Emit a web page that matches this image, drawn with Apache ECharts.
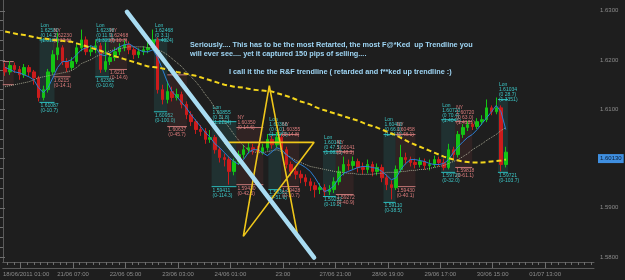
<!DOCTYPE html>
<html><head><meta charset="utf-8">
<script src="https://cdn.jsdelivr.net/npm/echarts@6.0.0/dist/echarts.min.js"></script>
<style>html,body{margin:0;padding:0;background:#1e1e1e;}#c{width:625px;height:280px;}</style>
</head><body><div id="c"></div>
<script>
// ---- data (2-hour bars, prices) ----
const opens=[1.6185,1.6176,1.6189,1.6181,1.6170,1.6185,1.6176,1.6164,1.6124,1.6140,
1.6176,1.6211,1.6225,1.6197,1.6185,1.6197,1.6225,1.6241,1.6217,1.6221,
1.6229,1.6181,1.6197,1.6205,1.6217,1.6225,1.6231,1.6221,1.6211,1.6217,
1.6221,1.6225,1.6241,1.6140,1.6120,1.6136,1.6124,1.6130,1.6110,1.6089,
1.6075,1.6059,1.6055,1.6039,1.6043,1.6018,1.6002,1.5998,1.5974,1.5994,
1.6008,1.6018,1.6022,1.6018,1.6014,1.6022,1.6039,1.6028,1.6043,1.6018,
1.5988,1.5974,1.5968,1.5961,1.5953,1.5945,1.5937,1.5941,1.5933,1.5937,
1.5953,1.5974,1.5988,1.5986,1.5994,1.5982,1.5978,1.5988,1.5974,1.5982,
1.5961,1.5947,1.5941,1.5978,1.6002,1.5998,1.5992,1.5988,1.5994,1.5986,
1.5988,1.5998,1.5992,1.5982,1.6018,1.6008,1.6049,1.6063,1.6069,1.6065,
1.6075,1.6079,1.6103,1.6095,1.6103,1.5988];
const closes=[1.6176,1.6189,1.6181,1.6170,1.6185,1.6176,1.6164,1.6124,1.6140,1.6176,
1.6211,1.6225,1.6197,1.6185,1.6197,1.6225,1.6241,1.6217,1.6221,1.6229,
1.6181,1.6197,1.6205,1.6217,1.6225,1.6231,1.6221,1.6211,1.6217,1.6221,
1.6225,1.6241,1.6140,1.6120,1.6136,1.6124,1.6130,1.6110,1.6089,1.6075,
1.6059,1.6055,1.6039,1.6043,1.6018,1.6002,1.5998,1.5974,1.5994,1.6008,
1.6018,1.6022,1.6018,1.6014,1.6022,1.6039,1.6028,1.6043,1.6018,1.5988,
1.5974,1.5968,1.5961,1.5953,1.5945,1.5937,1.5941,1.5933,1.5937,1.5953,
1.5974,1.5988,1.5986,1.5994,1.5982,1.5978,1.5988,1.5974,1.5982,1.5961,
1.5947,1.5941,1.5978,1.6002,1.5998,1.5992,1.5988,1.5994,1.5986,1.5988,
1.5998,1.5992,1.5982,1.6018,1.6008,1.6049,1.6063,1.6069,1.6065,1.6075,
1.6079,1.6103,1.6095,1.6103,1.5988,1.6013];
const lows=[1.6168,1.6170,1.6174,1.6160,1.6164,1.6168,1.6150,1.6116,1.6118,1.6134,
1.6170,1.6200,1.6190,1.6176,1.6180,1.6192,1.6218,1.6210,1.6208,1.6214,
1.6174,1.6176,1.6190,1.6198,1.6210,1.6218,1.6212,1.6202,1.6204,1.6210,
1.6214,1.6220,1.6132,1.6110,1.6112,1.6116,1.6118,1.6102,1.6080,1.6066,
1.6050,1.6046,1.6030,1.6032,1.6010,1.5992,1.5984,1.5947,1.5966,1.5988,
1.6000,1.6010,1.6008,1.6004,1.6008,1.6016,1.6020,1.6022,1.6010,1.5980,
1.5964,1.5958,1.5950,1.5944,1.5934,1.5921,1.5928,1.5924,1.5926,1.5930,
1.5946,1.5966,1.5976,1.5978,1.5972,1.5968,1.5970,1.5964,1.5966,1.5952,
1.5936,1.5917,1.5936,1.5972,1.5988,1.5984,1.5980,1.5982,1.5978,1.5976,
1.5982,1.5984,1.5976,1.5978,1.5998,1.6002,1.6042,1.6056,1.6058,1.6060,
1.6068,1.6074,1.6088,1.6090,1.5974,1.5982];
const highs=[1.6194,1.6198,1.6195,1.6188,1.6192,1.6190,1.6180,1.6168,1.6148,1.6182,
1.6220,1.6256,1.6230,1.6204,1.6206,1.6234,1.6262,1.6248,1.6230,1.6240,
1.6235,1.6236,1.6214,1.6226,1.6234,1.6240,1.6238,1.6226,1.6224,1.6228,
1.6236,1.6262,1.6246,1.6150,1.6158,1.6146,1.6142,1.6136,1.6116,1.6096,
1.6080,1.6068,1.6062,1.6058,1.6048,1.6024,1.6010,1.6004,1.6000,1.6016,
1.6028,1.6032,1.6030,1.6026,1.6030,1.6050,1.6046,1.6054,1.6048,1.6024,
1.5994,1.5982,1.5976,1.5968,1.5960,1.5952,1.5950,1.5948,1.5946,1.5962,
1.5984,1.6004,1.5998,1.6004,1.6000,1.5992,1.5998,1.5994,1.5990,1.5988,
1.5968,1.5956,1.5986,1.6028,1.6012,1.6004,1.6000,1.6002,1.6000,1.5998,
1.6006,1.6004,1.6000,1.6030,1.6024,1.6056,1.6070,1.6076,1.6074,1.6082,
1.6088,1.6120,1.6108,1.6124,1.6108,1.6024];
const maFast=[1.6185,1.6181,1.6176,1.6174,1.6170,1.6166,1.6160,1.6144,1.6134,1.6144,
1.6164,1.6185,1.6197,1.6197,1.6201,1.6211,1.6221,1.6225,1.6229,1.6225,
1.6211,1.6209,1.6215,1.6221,1.6227,1.6231,1.6233,1.6227,1.6221,1.6217,
1.6217,1.6221,1.6205,1.6181,1.6156,1.6136,1.6126,1.6114,1.6103,1.6089,
1.6077,1.6065,1.6053,1.6043,1.6030,1.6022,1.6012,1.6002,1.5994,1.5988,
1.5998,1.6012,1.6018,1.6018,1.6012,1.6006,1.6014,1.6022,1.6018,1.6008,
1.6000,1.5992,1.5988,1.5982,1.5974,1.5961,1.5945,1.5933,1.5937,1.5945,
1.5961,1.5970,1.5974,1.5978,1.5982,1.5984,1.5984,1.5982,1.5980,1.5974,
1.5966,1.5957,1.5961,1.5978,1.5990,1.5998,1.5998,1.5996,1.5994,1.5990,
1.5988,1.5988,1.5990,1.5998,1.6012,1.6024,1.6034,1.6043,1.6049,1.6059,
1.6071,1.6083,1.6095,1.6108,1.6095,1.6059];
const maSlow=[1.6146,1.6148,1.6150,1.6152,1.6154,1.6156,1.6160,1.6164,1.6166,1.6168,
1.6170,1.6172,1.6174,1.6176,1.6179,1.6185,1.6193,1.6197,1.6201,1.6207,
1.6211,1.6215,1.6219,1.6221,1.6223,1.6225,1.6227,1.6227,1.6227,1.6227,
1.6225,1.6225,1.6221,1.6217,1.6211,1.6203,1.6195,1.6187,1.6176,1.6166,
1.6156,1.6144,1.6130,1.6118,1.6103,1.6089,1.6075,1.6063,1.6049,1.6037,
1.6026,1.6018,1.6014,1.6012,1.6012,1.6014,1.6016,1.6018,1.6014,1.6008,
1.6002,1.5996,1.5992,1.5988,1.5984,1.5982,1.5980,1.5978,1.5976,1.5974,
1.5972,1.5972,1.5970,1.5970,1.5968,1.5968,1.5968,1.5968,1.5970,1.5970,
1.5972,1.5972,1.5972,1.5974,1.5974,1.5976,1.5976,1.5978,1.5978,1.5980,
1.5982,1.5984,1.5986,1.5990,1.5994,1.5998,1.6004,1.6010,1.6018,1.6024,
1.6030,1.6037,1.6043,1.6049,1.6057,1.6063];
const maLong=[1.6258,1.6256,1.6254,1.6252,1.6251,1.6249,1.6247,1.6245,1.6244,1.6243,
1.6241,1.6240,1.6239,1.6238,1.6237,1.6234,1.6231,1.6228,1.6225,1.6222,
1.6219,1.6215,1.6211,1.6208,1.6205,1.6202,1.6199,1.6196,1.6193,1.6190,
1.6187,1.6186,1.6185,1.6183,1.6181,1.6179,1.6176,1.6174,1.6172,1.6170,
1.6168,1.6165,1.6162,1.6159,1.6156,1.6153,1.6150,1.6148,1.6146,1.6145,
1.6144,1.6142,1.6140,1.6139,1.6138,1.6137,1.6136,1.6133,1.6130,1.6127,
1.6124,1.6120,1.6116,1.6113,1.6110,1.6105,1.6101,1.6098,1.6095,1.6092,
1.6089,1.6086,1.6083,1.6080,1.6077,1.6073,1.6069,1.6066,1.6063,1.6059,
1.6055,1.6051,1.6047,1.6042,1.6037,1.6032,1.6028,1.6024,1.6020,1.6016,
1.6012,1.6008,1.6004,1.6001,1.5998,1.5996,1.5994,1.5993,1.5992,1.5992,
1.5992,1.5993,1.5994,1.5995,1.5996,1.5998];
const tickLabels=['18/06/2011 01:00','21/06 07:00','22/06 05:00','23/06 03:00','24/06 01:00','23:00','27/06 21:00','28/06 19:00','29/06 17:00','30/06 15:00','01/07 13:00'];
const lastPrice=1.60130;
// trendline & star (hours, price)
const trendHours=[52.1,130.6];
const trendPrices=[1.6298,1.5799];
const starHours=[111.8,100.9,130.6,93.0,123.5,111.8];
const starPrices=[1.6148,1.5842,1.6033,1.6033,1.5848,1.6148];
// session boxes (hours, price)
const sessKind=['NY','Lon','NY','Lon','NY','Lon','NY','Lon','NY','Lon','NY','Lon','NY','Lon','NY','Lon','NY','Lon'];
const sessStart=[0,15.4,21.0,38.8,44.6,63.4,69.0,87.6,98.0,111.4,116.8,134.3,139.7,159.7,164.8,183.9,189.8,207.7];
const sessEnd=[4.6,21.7,28.4,44.6,52.1,69.0,77.2,98.0,109.3,116.8,124.3,139.7,147.2,164.8,173.1,189.8,196.9,211.9];
const sessHigh=[1.6197,1.6241,1.6241,1.6241,1.6241,1.6241,1.6170,1.6075,1.6063,1.6049,1.6049,1.6014,1.6014,1.6049,1.6049,1.6079,1.6075,1.6120];
const sessLow=[1.6150,1.6114,1.6166,1.6166,1.6181,1.6095,1.6065,1.5943,1.5947,1.5937,1.5943,1.5923,1.5927,1.5911,1.5943,1.5972,1.5982,1.5972];
const sessTop=['','Lon|1.62580|(0 14.2)|(1.0121)','NY|1.62230|(0 12.1)','Lon|1.62398|(0 11.9)|(1.3217)','NY|1.62468|(0 10.3)','Lon|1.62468|(0 3.1)|(1.4024)','',
'Lon|1.60855|(0 11.8)|(1.2134)','NY|1.60350|(0 14.6)','Lon|1.60366|(0 0.0)|(1.3263)','NY|1.60355|(0 14.8)','Lon|1.60141|(0 47.5)|(1.0823)','NY|1.60141|(0 48.3)',
'Lon|1.60400|(0 66.0)|(1.4411)','NY|1.60458|(0 48.1)','Lon|1.60720|(0 70.4)|(1.4046)','NY|1.60720|(0 63.0)|(1.4121)','Lon|1.61034|(0 28.7)|(1.3351)'];
const sessBottom=['','1.61087|(0-10.7)','1.6215|(0-14.1)','1.62301|(0-10.6)','1.6211|(0-14.6)','1.60952|(0-100.0)','1.60637|(0-45.7)',
'1.59411|(0-114.3)','1.59430|(0-42.5)','1.59362|(0-51.6)','1.59428|(0-10.7)','1.59232|(0-19.2)','1.59272|(0-40.9)',
'1.59110|(0-38.5)','1.59430|(0-40.1)','1.59720|(0-32.0)','1.59818|(0-61.1)','1.59721|(0-103.7)'];
const noteLines=['Seriously.... This has to be the most Retarted, the most F@*Ked  up Trendline you','will ever see.... yet it captured 150 pips of selling....','I call it the the R&F trendline ( retarded and f**ked up trendline :)'];

// ---- layout ----
const W=625,H=280,GR=31,GB=18,PLOT_H=H-GB;
const YMIN=1.579,YMAX=1.6322;
const SLOTS=124,HOURS=248;
const cats=Array.from({length:SLOTS},(_,i)=>String(i));
const majorTicks=tickLabels.map((_,k)=>7.5+22*k);
const labelVals=majorTicks.map((v,k)=>k===0?v+2.3:v);
const minorTicks=[];for(let v=2;v<HOURS;v+=2.75)minorTicks.push(v);
const yPix=p=>PLOT_H-(p-YMIN)/(YMAX-YMIN)*PLOT_H;
const LBL_MIN=1.58,LBL_MAX=1.63;
const g1top=yPix(LBL_MAX),g1bottom=H-yPix(LBL_MIN);
const grey='#8c8c8c',lineGrey='#5a5a5a';
const noteFont='bold 7.3px "Liberation Sans", Arial';

const chart=echarts.init(document.getElementById('c'),null,{renderer:'canvas'});
const candleData=opens.map((o,i)=>[o,closes[i],lows[i],highs[i]]);
const sessData=sessStart.map((s,i)=>[s,sessEnd[i],sessHigh[i],sessLow[i],i]);
const font5='5px "Liberation Sans", Arial';

chart.setOption({
  animation:false,backgroundColor:'#1e1e1e',
  grid:[{left:0,right:GR,top:0,bottom:GB},{left:0,right:GR,top:g1top,bottom:g1bottom}],
  xAxis:[
    {type:'category',gridIndex:0,position:'bottom',data:cats,show:false},
    {type:'value',gridIndex:0,position:'bottom',min:0,max:HOURS,splitLine:{show:false},
     axisLine:{show:true,lineStyle:{color:lineGrey}},
     axisTick:{show:true,customValues:majorTicks,length:6,lineStyle:{color:'#6e6e6e'}},
     axisLabel:{show:true,customValues:labelVals,color:grey,fontSize:6,margin:9,fontFamily:'"Liberation Sans", Arial',
       formatter:v=>{const k=labelVals.findIndex(t=>Math.abs(t-v)<1e-6);return k>=0?tickLabels[k]:'';}}},
    {type:'value',gridIndex:0,position:'bottom',min:0,max:HOURS,splitLine:{show:false},axisLine:{show:false},
     axisTick:{show:true,customValues:minorTicks,length:3,lineStyle:{color:'#6e6e6e'}},axisLabel:{show:false}},
    {type:'value',gridIndex:0,position:'bottom',min:0,max:HOURS,offset:6,splitLine:{show:false},
     axisLine:{show:true,lineStyle:{color:lineGrey}},axisTick:{show:false},axisLabel:{show:false}},
    {type:'value',gridIndex:1,position:'bottom',min:0,max:HOURS,show:false}
  ],
  yAxis:[
    {type:'value',gridIndex:0,position:'right',min:YMIN,max:YMAX,splitLine:{show:false},
     axisLine:{show:true,lineStyle:{color:lineGrey}},axisTick:{show:false},axisLabel:{show:false}},
    {type:'value',gridIndex:1,position:'right',min:LBL_MIN,max:LBL_MAX,interval:0.01,splitLine:{show:false},
     axisLine:{show:false},axisTick:{show:true,length:5,lineStyle:{color:'#6e6e6e'}},
     minorTick:{show:true,splitNumber:5,length:3,lineStyle:{color:'#6e6e6e'}},minorSplitLine:{show:false},
     axisLabel:{color:grey,fontSize:6,margin:6,fontFamily:'"Liberation Sans", Arial',formatter:v=>v.toFixed(4)}}
  ],
  graphic:[
    {type:'text',left:190,top:41,z:100,style:{text:noteLines[0],fill:'#9fd6f5',font:noteFont}},
    {type:'text',left:190,top:50,z:100,style:{text:noteLines[1],fill:'#9fd6f5',font:noteFont}},
    {type:'text',left:229,top:68,z:100,style:{text:noteLines[2],fill:'#9fd6f5',font:noteFont}}
  ],
  series:[
    {type:'custom',xAxisIndex:1,yAxisIndex:0,z:1,clip:false,data:sessData,encode:{x:[0,1],y:[2,3]},
     renderItem:(params,api)=>{
       const i=api.value(4);
       const a=api.coord([api.value(0),api.value(2)]);
       const b=api.coord([api.value(1),api.value(3)]);
       const lon=sessKind[i]==='Lon';
       const fill=lon?'rgba(40,120,120,0.22)':'rgba(140,60,60,0.16)';
       const lc=lon?'#2cbcbc':'#c97a7a';
       const tc=lon?'#3cc6c6':'#dd7c7c';
       const ch=[
         {type:'rect',shape:{x:a[0],y:a[1],width:b[0]-a[0],height:b[1]-a[1]},style:{fill:fill}},
         {type:'line',shape:{x1:a[0],y1:a[1],x2:b[0],y2:a[1]},style:{stroke:lc,lineWidth:1}},
         {type:'line',shape:{x1:a[0],y1:b[1],x2:b[0],y2:b[1]},style:{stroke:lc,lineWidth:1}}
       ];
       if(sessTop[i])ch.push({type:'text',style:{x:a[0]+1,y:a[1]+3,text:sessTop[i].split('|').join('\n'),fill:tc,font:font5,lineHeight:5,verticalAlign:'bottom'}});
       if(sessBottom[i])ch.push({type:'text',style:{x:a[0]+1,y:b[1]+1,text:sessBottom[i].split('|').join('\n'),fill:tc,font:font5,lineHeight:5,verticalAlign:'top'}});
       return {type:'group',children:ch};
     }},
    {type:'candlestick',xAxisIndex:0,yAxisIndex:0,z:2,data:candleData,barWidth:3,
     itemStyle:{color:'#14c414',color0:'#cc1c1c',borderColor:'#14c414',borderColor0:'#cc1c1c',borderWidth:1}},
    {type:'line',xAxisIndex:0,yAxisIndex:0,z:3,data:maSlow,symbol:'none',lineStyle:{color:'#a5a591',width:1,type:'dotted'}},
    {type:'line',xAxisIndex:0,yAxisIndex:0,z:3,data:maFast,symbol:'none',lineStyle:{color:'#2c7fd6',width:1}},
    {type:'line',xAxisIndex:0,yAxisIndex:0,z:4,data:maLong,symbol:'none',lineStyle:{color:'#f3d51c',width:2,type:[5,3]}},
    {type:'line',xAxisIndex:1,yAxisIndex:0,z:5,data:starHours.map((h,i)=>[h,starPrices[i]]),symbol:'none',lineStyle:{color:'#eec61a',width:1.6}},
    {type:'line',xAxisIndex:1,yAxisIndex:0,z:6,data:trendHours.map((h,i)=>[h,trendPrices[i]]),symbol:'none',lineStyle:{color:'#a9dcf2',width:4.5,cap:'round'}},
    {type:'line',xAxisIndex:1,yAxisIndex:0,z:7,data:[],silent:true,
     markLine:{silent:true,symbol:'none',animation:false,data:[{yAxis:lastPrice}],lineStyle:{color:'rgba(0,0,0,0)',width:0},
       label:{show:true,position:'end',distance:4,formatter:lastPrice.toFixed(5),backgroundColor:'#3f8fe0',color:'#0b1b30',fontSize:6,padding:[2,2,1,2]}}}
  ]
});
</script></body></html>
